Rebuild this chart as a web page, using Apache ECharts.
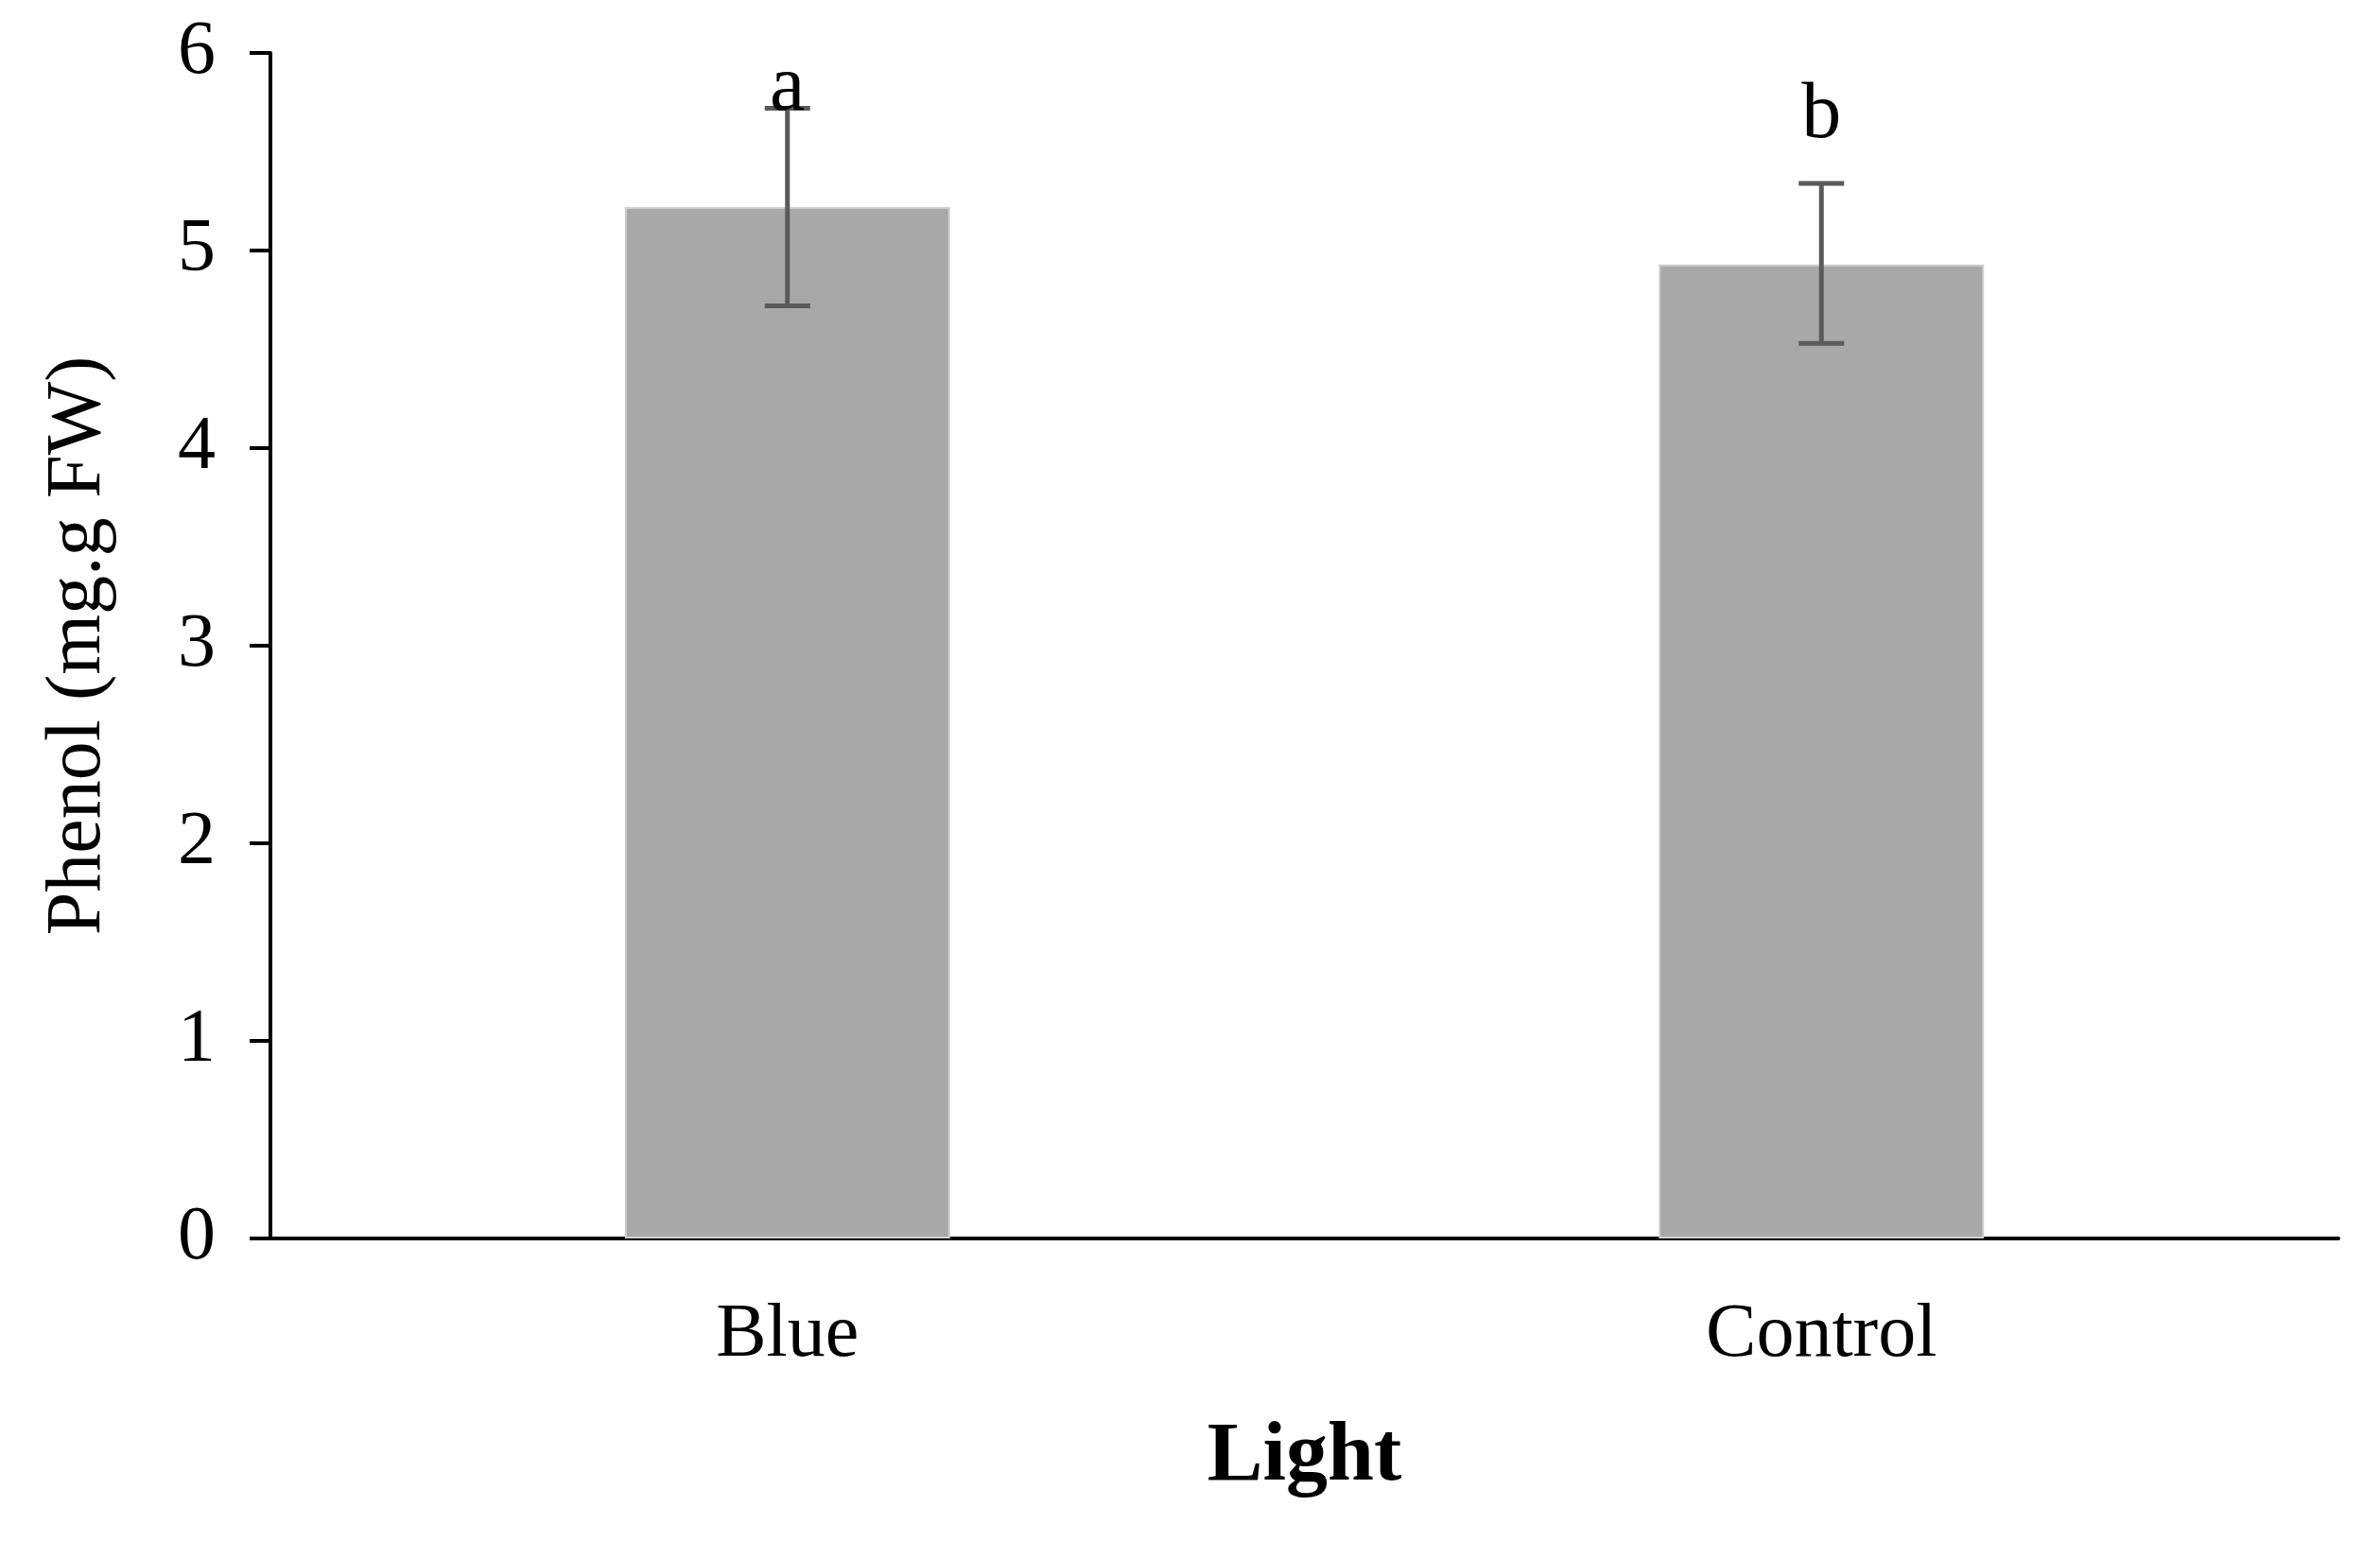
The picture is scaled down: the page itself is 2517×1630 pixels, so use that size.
<!DOCTYPE html>
<html>
<head>
<meta charset="utf-8">
<script src="https://cdn.jsdelivr.net/npm/echarts@6/dist/echarts.min.js"></script>
<style>
html,body{margin:0;padding:0;background:#fff;}
#chart{width:2517px;height:1630px;}
</style>
</head>
<body>
<div id="chart"></div>
<script>
const categories = ['Blue', 'Control'];
const phenolMeans = [5.22, 4.93];
const errorLow = [4.72, 4.53];
const errorHigh = [5.72, 5.34];
const letters = ['a', 'b'];
const letterValues = [5.82, 5.68];
const yTicks = [0, 1, 2, 3, 4, 5, 6];

const FONT = 'Liberation Serif';
const chart = echarts.init(document.getElementById('chart'), null, {renderer: 'canvas'});

const errData = categories.map((c, i) => [i, errorLow[i], errorHigh[i]]);
const letterData = categories.map((c, i) => [i, letterValues[i], letters[i]]);

chart.setOption({
  animation: false,
  backgroundColor: '#ffffff',
  grid: {left: 286, right: 44, top: 56, bottom: 320, containLabel: false},
  xAxis: {
    type: 'category',
    data: categories,
    boundaryGap: true,
    name: 'Light',
    nameLocation: 'middle',
    nameGap: 188,
    nameTextStyle: {fontFamily: FONT, fontSize: 88, fontWeight: 'bold', color: '#000'},
    axisLine: {show: true, lineStyle: {color: '#000', width: 4}},
    axisTick: {show: false},
    axisLabel: {fontFamily: FONT, fontSize: 80, color: '#000', margin: 63}
  },
  yAxis: {
    type: 'value',
    min: yTicks[0],
    max: yTicks[yTicks.length - 1],
    interval: 1,
    name: 'Phenol (mg.g FW)',
    nameLocation: 'middle',
    nameGap: 162,
    nameRotate: 90,
    nameTextStyle: {fontFamily: FONT, fontSize: 82, color: '#000'},
    axisLine: {show: true, lineStyle: {color: '#000', width: 4}},
    axisTick: {show: true, inside: false, length: 22, lineStyle: {color: '#000', width: 4}},
    splitLine: {show: false},
    axisLabel: {fontFamily: FONT, fontSize: 80, color: '#000', margin: 58}
  },
  series: [
    {
      type: 'bar',
      data: phenolMeans,
      barWidth: 344,
      itemStyle: {color: '#a8a8a8', borderColor: '#cfcfcf', borderWidth: 2},
      z: 2
    },
    {
      type: 'custom',
      data: errData,
      z: 5,
      renderItem: function (params, api) {
        const x = api.value(0);
        const lo = api.coord([x, api.value(1)]);
        const hi = api.coord([x, api.value(2)]);
        const hw = 24;
        const style = {stroke: '#5a5a5a', lineWidth: 5};
        return {
          type: 'group',
          children: [
            {type: 'line', shape: {x1: lo[0], y1: lo[1], x2: hi[0], y2: hi[1]}, style: style},
            {type: 'line', shape: {x1: lo[0] - hw, y1: lo[1], x2: lo[0] + hw, y2: lo[1]}, style: style},
            {type: 'line', shape: {x1: hi[0] - hw, y1: hi[1], x2: hi[0] + hw, y2: hi[1]}, style: style}
          ]
        };
      }
    },
    {
      type: 'custom',
      data: letterData,
      z: 6,
      renderItem: function (params, api) {
        const p = api.coord([api.value(0), api.value(1)]);
        return {
          type: 'text',
          x: p[0],
          y: p[1],
          style: {
            text: letters[params.dataIndex],
            fontFamily: FONT,
            fontSize: 84,
            fill: '#000',
            align: 'center',
            verticalAlign: 'middle'
          }
        };
      }
    }
  ]
});
</script>
</body>
</html>
